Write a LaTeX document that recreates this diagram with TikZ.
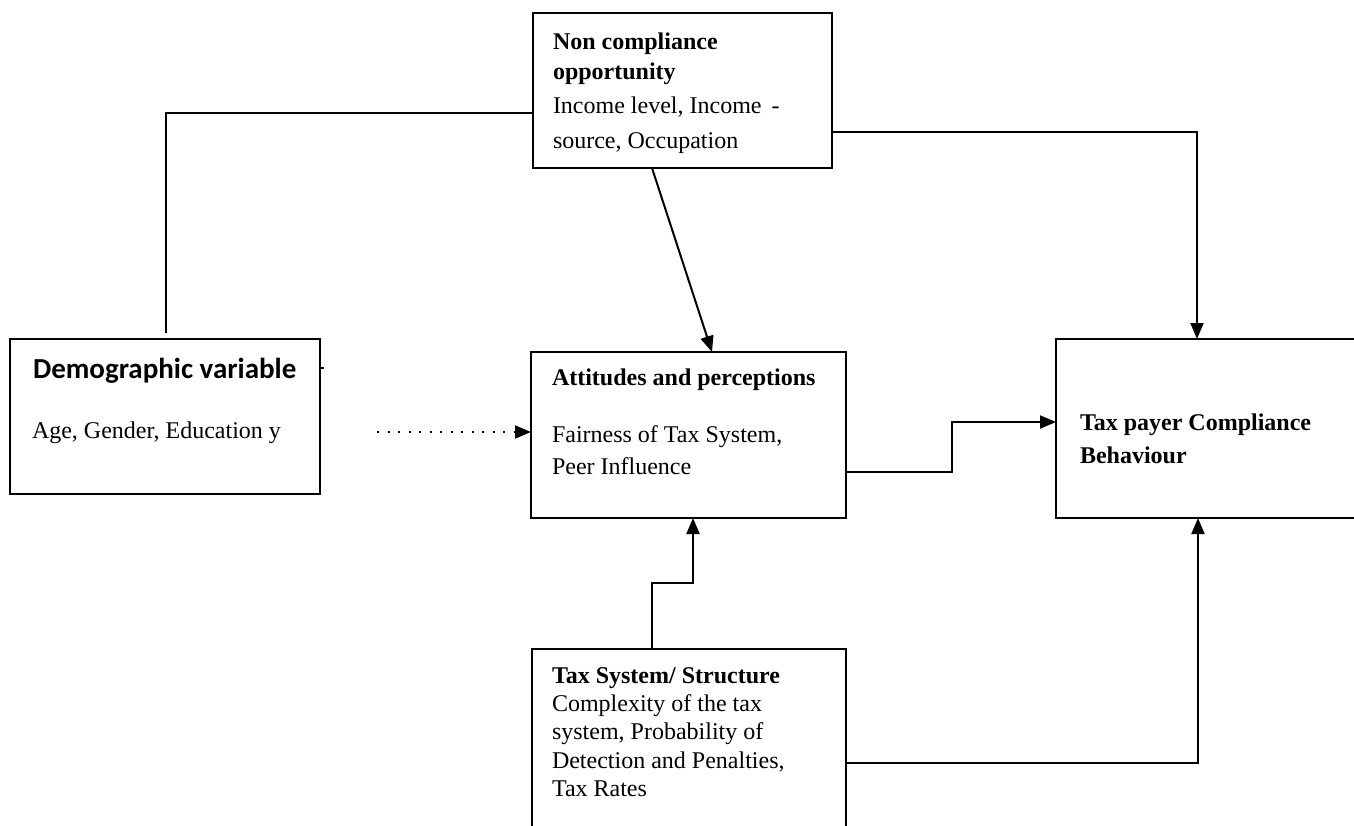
\documentclass[tikz,border=0pt]{standalone}
\usepackage{fontspec}
\setmainfont{Liberation Serif}
\newfontfamily\calib{Carlito}
\usetikzlibrary{arrows.meta}
\tikzset{
  box/.style={draw, line width=2pt, inner sep=0pt, outer sep=0pt},
  conn/.style={line width=2pt},
  arr/.style={line width=2pt, -{Triangle[length=16pt,width=13pt]}},
  dotarr/.style={line width=2pt, dash pattern=on 2pt off 8.5pt, -{Triangle[length=16pt,width=13pt]}},
  txt/.style={anchor=base west, inner sep=0pt, outer sep=0pt, align=left}
}
\begin{document}
\begin{tikzpicture}[x=1pt,y=-1pt]
\useasboundingbox (0,0) rectangle (1354,825);
\fill[white] (0,0) rectangle (1354,825);
\clip (0,0) rectangle (1354,825);
% boxes
\node[box, minimum width=299pt, minimum height=155pt] (top) at (682.5,90.5) {};
\node[box, minimum width=310pt, minimum height=155pt] (demo) at (165,416.5) {};
\node[box, minimum width=315pt, minimum height=166pt] (att) at (688.5,435) {};
\node[box, minimum width=324pt, minimum height=179pt] (right) at (1218,428.5) {};
\node[box, minimum width=314pt, minimum height=211pt] (bot) at (689,754.5) {};
% texts
\node[txt] (toph) at (553,49) {\parbox[t]{290pt}{\fontsize{24}{30}\selectfont\bfseries Non compliance\\opportunity}};
\node[txt] (topb) at (553,113) {\parbox[t]{290pt}{\fontsize{24}{35}\selectfont Income level, Income \,-\\source, Occupation}};
\node[txt] (demoh) at (33,378) {\calib\bfseries\fontsize{29}{32}\selectfont Demographic variable};
\node[txt] (demob) at (32,438) {\fontsize{24}{30}\selectfont Age, Gender, Education y};
\node[txt] (atth) at (552,385) {\fontsize{24}{30}\selectfont\bfseries Attitudes and perceptions};
\node[txt] (attb) at (552,442) {\parbox[t]{290pt}{\fontsize{24}{32}\selectfont Fairness of Tax System,\\Peer Influence}};
\node[txt] (righth) at (1080,430) {\parbox[t]{290pt}{\fontsize{24}{33}\selectfont\bfseries Tax payer Compliance\\Behaviour}};
\node[txt] (both) at (552,683) {\fontsize{24}{30}\selectfont\bfseries Tax System/ Structure};
\node[txt] (botb) at (552,711) {\parbox[t]{290pt}{\fontsize{24}{28.5}\selectfont Complexity of the tax\\system, Probability of\\Detection and Penalties,\\Tax Rates}};
% connectors
\coordinate (j1) at (166,113);
\coordinate (e1) at (166,333);
\draw[conn] (top.west |- j1) -- (j1) -- (e1);
\draw[arr] ([xshift=-30.5pt]top.south) -- ([xshift=23.5pt]att.north);
\draw[arr] ([yshift=-41.5pt]top.east) -| ([xshift=-21pt]right.north);
\draw[conn] ([yshift=48.5pt]demo.east) -- ++(4,0) coordinate (tick);
\coordinate (d0) at (377,432);
\draw[dotarr] (d0) -- (att.west |- d0);
\draw[arr] ([yshift=-37pt]att.east) -- ++(106,0) |- ([yshift=6.5pt]right.west);
\draw[arr] ([xshift=-37pt]bot.north) -- ++(0,-66) -| ([xshift=4.5pt]att.south);
\draw[arr] ([yshift=-8.5pt]bot.east) -| ([xshift=-20pt]right.south);
\end{tikzpicture}
\end{document}
